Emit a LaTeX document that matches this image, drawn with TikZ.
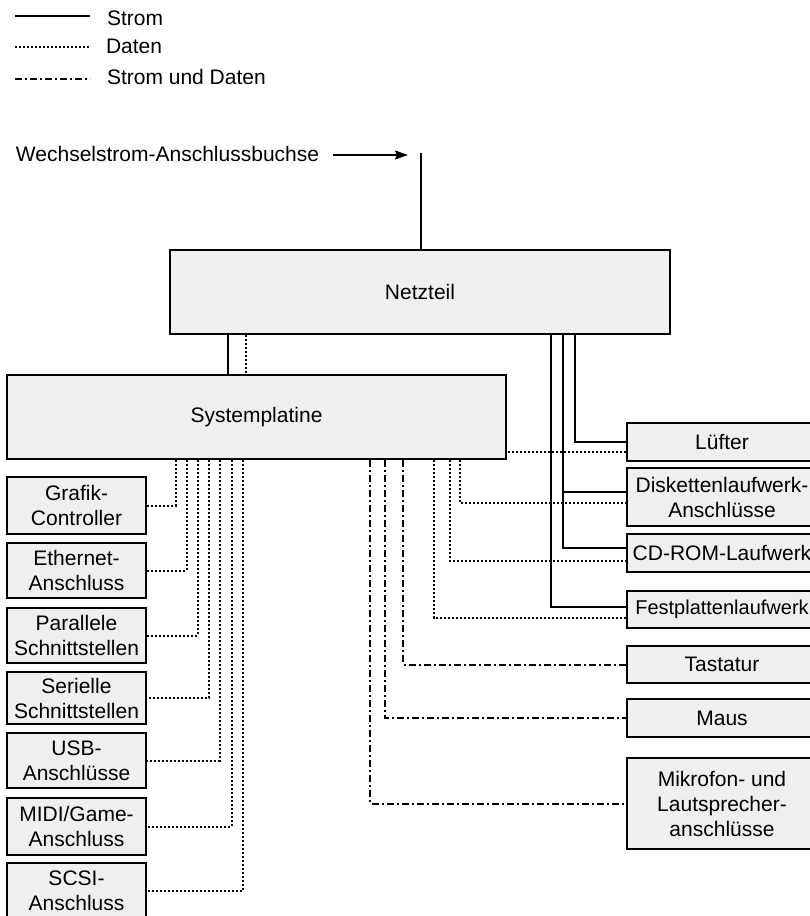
\documentclass[tikz,border=0pt]{standalone}
\usepackage{fontspec}
\setmainfont{Liberation Sans}
\usetikzlibrary{arrows.meta, calc}
\definecolor{cfill}{HTML}{EFEFEF}
\definecolor{cline}{HTML}{000000}
\tikzset{
  every picture/.style={line width=2pt},
  box/.style={draw=cline, fill=cfill, line width=2.3pt, align=center, inner sep=0pt, font=\fontsize{21}{25}\selectfont},
  strom/.style={draw=cline, line width=2pt},
  daten/.style={draw=cline, line width=2pt, dash pattern=on 2pt off 2pt},
  beides/.style={draw=cline, line width=2pt, dash pattern=on 7pt off 3pt on 2pt off 3pt},
  arrow/.style={-{Stealth[length=13pt, width=9pt, inset=2pt]}, draw=cline, line width=1.6pt},
  note/.style={font=\fontsize{21}{25}\selectfont, inner sep=0pt},
}

\begin{document}
\begin{tikzpicture}[x=1pt, y=-1pt, lbox/.style={box, minimum width=139pt}, rbox/.style={box, minimum width=190pt}]
\useasboundingbox (0,0) rectangle (810,916);
\clip (0,0) rectangle (810,916);
% legend
\draw[strom] (15,16) -- (90,16);
\node[note, anchor=base west] (lstrom) at (106,25) {Strom};
\draw[daten] (15,47) -- (90,47);
\node[note, anchor=base west] (ldaten) at (105,53) {Daten};
\draw[beides] (15,79) -- (90,79);
\node[note, anchor=base west] (lbeides) at (106,84) {Strom und Daten};
% Netzteil, Systemplatine
\node[box, minimum width=500pt, minimum height=84pt] (netz) at (420,292) {Netzteil};
\node[box, minimum width=499pt, minimum height=84pt] (sys) at (256.5,417) {Systemplatine};
\node[note, anchor=base west] (ac) at (15,161) {Wechselstrom-Anschlussbuchse};
\coordinate (acin) at (408,155);
\coordinate (actop) at (421,153);
\draw[arrow] ([xshift=13]ac.east |- acin) -- (acin);
\draw[strom] (actop) -- (actop |- netz.north);
\draw[strom] ([xshift=59]netz.south west) -- ([xshift=59]netz.south west |- sys.north);
\draw[daten] ([xshift=77]netz.south west) -- ([xshift=77]netz.south west |- sys.north);
% left column
\node[lbox, minimum height=57pt] (grafik) at (76.5,505.5) {Grafik-\\Controller};
\node[lbox, minimum height=55pt] (ether) at (76.5,570.5) {Ethernet-\\Anschluss};
\node[lbox, minimum height=55pt] (parallel) at (76.5,635.5) {Parallele\\Schnittstellen};
\node[lbox, minimum height=52pt] (seriell) at (76.5,698) {Serielle\\Schnittstellen};
\node[lbox, minimum height=55pt] (usb) at (76.5,760.5) {USB-\\Anschlüsse};
\node[lbox, minimum height=57pt] (midi) at (76.5,826.5) {MIDI/Game-\\Anschluss};
\node[lbox, minimum height=56pt] (scsi) at (76.5,891) {SCSI-\\Anschluss};
\foreach \n/\dx in {grafik/170, ether/181, parallel/192, seriell/203, usb/214, midi/226, scsi/237}
  \draw[daten] ([xshift=\dx]sys.south west) |- (\n.east);
% right column
\node[rbox, minimum height=38pt] (luefter) at (722,442) {Lüfter};
\node[rbox, minimum height=58pt] (disk) at (722,497) {Diskettenlaufwerk-\\Anschlüsse};
\node[rbox, minimum height=38pt] (cdrom) at (722,553) {CD-ROM-Laufwerk};
\node[rbox, minimum height=37pt, font=\fontsize{20}{24}\selectfont] (fest) at (722,609.5) {Festplattenlaufwerk};
\node[rbox, minimum height=37pt] (tast) at (722,664.5) {Tastatur};
\node[rbox, minimum height=38pt] (maus) at (722,718) {Maus};
\node[rbox, minimum height=91pt] (mikro) at (722,803.5) {Mikrofon- und\\Lautsprecher-\\anschlüsse};
% Strom
\draw[strom] ([xshift=-96]netz.south east) |- (luefter.west);
\draw[strom] ([xshift=-108]netz.south east) |- ([yshift=5]cdrom.west);
\draw[strom] ([yshift=5]disk.west) -| ([xshift=-108]netz.south east);
\draw[strom] ([xshift=-120]netz.south east) |- ([yshift=2.5]fest.west);
% Daten
\draw[daten] ([yshift=-10]luefter.west) -- ([yshift=-10]luefter.west -| sys.east);
\draw[daten] ([xshift=-47]sys.south east) |- ([yshift=-6]disk.west);
\draw[daten] ([xshift=-57]sys.south east) |- ([yshift=-8]cdrom.west);
\draw[daten] ([xshift=-73]sys.south east) |- ([yshift=-8.5]fest.west);
% Strom und Daten
\draw[beides] ([xshift=-104]sys.south east) |- (tast.west);
\draw[beides] ([xshift=-122]sys.south east) |- (maus.west);
\draw[beides] ([xshift=-137]sys.south east) |- (mikro.west);
\end{tikzpicture}
\end{document}
